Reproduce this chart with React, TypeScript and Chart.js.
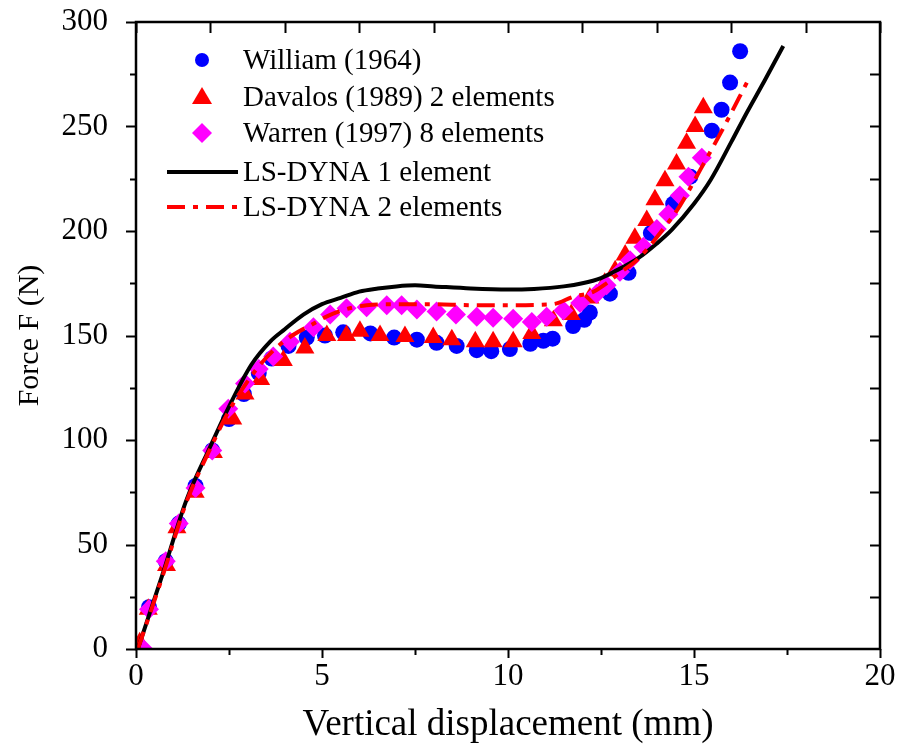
import React, { useEffect, useRef } from "react";
import { Chart, registerables } from "chart.js";
Chart.register(...registerables);

const FONT = '"Liberation Serif", "Times New Roman", serif';

// ---- Data ----
const williamX = [0.35, 0.8, 1.15, 1.6, 2.05, 2.5, 2.9, 3.3, 3.65, 4.1, 4.59, 5.08, 5.57, 6.3, 6.94, 7.55, 8.08, 8.62, 9.16, 9.55, 10.05, 10.6, 10.95, 11.2, 11.75, 12.05, 12.2, 12.74, 13.24, 13.84, 14.44, 14.9, 15.48, 15.74, 15.97, 16.24];
const williamY = [20, 42, 60, 78, 95, 110, 122, 132, 139, 145, 149, 150, 151.5, 151, 149, 148, 146.5, 145, 143, 142.5, 143.5, 146, 147.5, 148.5, 154.5, 157.5, 161, 170, 180, 199, 213, 226, 248, 258, 271, 286];

const davalosX = [0.1, 0.33, 0.82, 1.1, 1.59, 2.08, 2.6, 2.93, 3.35, 3.96, 4.54, 5.13, 5.66, 6.02, 6.56, 7.23, 7.99, 8.49, 9.12, 9.6, 10.14, 10.64, 11.22, 11.7, 12.2, 12.6, 12.88, 13.15, 13.41, 13.73, 13.95, 14.22, 14.53, 14.8, 15.03, 15.25];
const davalosY = [3, 19, 40, 58, 75, 94, 110, 122, 129, 138, 144, 150, 150, 152, 150, 149.5, 149, 148, 147, 147, 147, 151, 157, 160, 168, 175, 181, 188.5, 196.5, 205, 215, 224, 232, 242, 250, 259];

const warrenX = [0.2, 0.35, 0.8, 1.15, 1.6, 2.05, 2.48, 2.93, 3.3, 3.69, 4.14, 4.77, 5.22, 5.66, 6.2, 6.74, 7.14, 7.55, 8.08, 8.6, 9.16, 9.6, 10.14, 10.64, 11.04, 11.49, 11.94, 12.38, 12.65, 13.01, 13.28, 13.64, 14.0, 14.31, 14.62, 14.85, 15.21];
const warrenY = [0, 19, 42, 60, 77, 95, 115, 127, 134, 140, 147, 154, 160, 163, 163.5, 164.5, 164.5, 162.5, 161.5, 160, 159, 158.5, 158, 156.5, 159, 162, 165.5, 170, 174, 180.5, 186, 192.5, 201, 208, 217, 226, 235];

const dyna1X = [0.05, 0.7, 1.35, 2, 2.5, 3.1, 3.6, 4, 4.5, 5, 5.5, 6, 6.5, 7, 7.5, 8, 9, 10, 10.7, 11.5, 12, 12.5, 12.85, 13.5, 14, 14.4, 15, 15.45, 16, 16.4, 16.9, 17.4];
const dyna1Y = [0, 35, 71, 97, 116, 136, 147, 153, 160, 165, 168, 171, 172.5, 173.5, 174, 173.5, 172.5, 172, 172.3, 173.5, 175, 177.5, 180.5, 187, 194, 200.5, 213, 224.5, 242.5, 256, 272, 288.5];

const dyna2X = [0.05, 0.7, 1.35, 2, 2.5, 3.2, 3.7, 4.2, 4.7, 5.3, 6.2, 7, 8, 9, 10, 11.2, 11.75, 12.3, 12.65, 13, 13.46, 14, 14.62, 15.16, 15.78, 16.45];
const dyna2Y = [0, 34, 70, 96, 114, 133, 143, 150, 155, 160.5, 164.5, 165, 165, 164.5, 164.5, 165, 168.5, 171, 175, 180, 186, 197, 212, 229, 249, 272];

const xTickValues = [0, 5, 10, 15, 20];
const yTickValues = [0, 50, 100, 150, 200, 250, 300];

const legendLabels = [
  "William (1964)",
  "Davalos (1989) 2 elements",
  "Warren (1997) 8 elements",
  "LS-DYNA 1 element",
  "LS-DYNA 2 elements",
];

const zip = (xs: number[], ys: number[]) => xs.map((x, i) => ({ x, y: ys[i] }));

const BLUE = "#0000ff";
const RED = "#ff0000";
const MAGENTA = "#ff00ff";

const framePlugin = {
  id: "frameTicks",
  afterDatasetsDraw(chart: any) {
    const { ctx, chartArea: a, scales } = chart;
    const xs = scales.x;
    const ys = scales.y;
    ctx.save();
    ctx.strokeStyle = "#000";
    ctx.lineWidth = 2.5;
    ctx.strokeRect(a.left, a.top, a.right - a.left, a.bottom - a.top);
    ctx.lineWidth = 2;
    ctx.beginPath();
    for (let v = 0; v <= 20.001; v += 2.5) {
      const px = Math.round(xs.getPixelForValue(v)) + 0.5;
      const len = v % 5 === 0 ? 9 : 6;
      ctx.moveTo(px, a.bottom);
      ctx.lineTo(px, a.bottom + len);
    }
    for (let v = 0; v <= 20.001; v += 2) {
      const px = Math.round(xs.getPixelForValue(v)) + 0.5;
      ctx.moveTo(px, a.top);
      ctx.lineTo(px, a.top + 11);
    }
    for (let v = 0; v <= 300.001; v += 25) {
      const py = Math.round(ys.getPixelForValue(v)) + 0.5;
      const len = v % 50 === 0 ? 10 : 6;
      ctx.moveTo(a.left, py);
      ctx.lineTo(a.left - len, py);
    }
    for (let v = 25; v < 300; v += 25) {
      const py = Math.round(ys.getPixelForValue(v)) + 0.5;
      ctx.moveTo(a.right, py);
      ctx.lineTo(a.right - 10, py);
    }
    ctx.stroke();
    ctx.restore();
  },
  afterDraw(chart: any) {
    const { ctx } = chart;
    ctx.save();
    const mx = 202;
    const rows = [60, 97, 133, 172, 207];
    ctx.fillStyle = BLUE;
    ctx.beginPath();
    ctx.arc(mx, rows[0], 7, 0, Math.PI * 2);
    ctx.fill();
    ctx.fillStyle = RED;
    ctx.beginPath();
    ctx.moveTo(mx, rows[1] - 10);
    ctx.lineTo(mx + 10, rows[1] + 7);
    ctx.lineTo(mx - 10, rows[1] + 7);
    ctx.closePath();
    ctx.fill();
    ctx.fillStyle = MAGENTA;
    ctx.beginPath();
    ctx.moveTo(mx, rows[2] - 10);
    ctx.lineTo(mx + 10, rows[2]);
    ctx.lineTo(mx, rows[2] + 10);
    ctx.lineTo(mx - 10, rows[2]);
    ctx.closePath();
    ctx.fill();
    ctx.lineWidth = 4;
    ctx.strokeStyle = "#000";
    ctx.beginPath();
    ctx.moveTo(167, rows[3]);
    ctx.lineTo(238, rows[3]);
    ctx.stroke();
    ctx.strokeStyle = RED;
    ctx.setLineDash([18, 8, 5, 8]);
    ctx.beginPath();
    ctx.moveTo(167, rows[4]);
    ctx.lineTo(240, rows[4]);
    ctx.stroke();
    ctx.setLineDash([]);
    ctx.fillStyle = "#000";
    ctx.font = `29px ${FONT}`;
    ctx.textBaseline = "middle";
    ctx.textAlign = "left";
    legendLabels.forEach((t, i) => ctx.fillText(t, 243, rows[i] + 1));
    ctx.restore();
  },
};

export default function App() {
  const ref = useRef<HTMLCanvasElement | null>(null);
  useEffect(() => {
    if (!ref.current) return;
    const chart = new Chart(ref.current, {
      type: "scatter",
      data: {
        datasets: [
          {
            label: legendLabels[4],
            data: zip(dyna2X, dyna2Y),
            showLine: true,
            borderColor: RED,
            borderWidth: 4,
            borderDash: [18, 8, 5, 8],
            pointRadius: 0,
            cubicInterpolationMode: "monotone",
            order: 0,
          } as any,
          {
            label: legendLabels[3],
            data: zip(dyna1X, dyna1Y),
            showLine: true,
            borderColor: "#000",
            borderWidth: 4,
            pointRadius: 0,
            cubicInterpolationMode: "monotone",
            order: 1,
          },
          {
            label: legendLabels[2],
            data: zip(warrenX, warrenY),
            pointStyle: "rectRot",
            pointRadius: 10,
            backgroundColor: MAGENTA,
            borderColor: MAGENTA,
            borderWidth: 0,
            order: 2,
          },
          {
            label: legendLabels[1],
            data: zip(davalosX, davalosY),
            pointStyle: "triangle",
            pointRadius: 11,
            backgroundColor: RED,
            borderColor: RED,
            borderWidth: 0,
            order: 3,
          },
          {
            label: legendLabels[0],
            data: zip(williamX, williamY),
            pointStyle: "circle",
            pointRadius: 8,
            backgroundColor: BLUE,
            borderColor: BLUE,
            borderWidth: 0,
            order: 4,
          },
        ],
      },
      options: {
        responsive: false,
        animation: false,
        layout: { padding: { left: 0, right: 19, top: 22, bottom: 0 } },
        plugins: { legend: { display: false }, tooltip: { enabled: false } },
        scales: {
          x: {
            type: "linear",
            min: 0,
            max: 20,
            afterFit: (s: any) => { s.height = 105; s.paddingLeft = 0; s.paddingRight = 0; },
            afterBuildTicks: (s: any) => { s.ticks = xTickValues.map((v) => ({ value: v })); },
            grid: { display: false, drawTicks: false },
            border: { display: false },
            ticks: { color: "#000", font: { family: FONT, size: 31 }, padding: 9, autoSkip: false, maxRotation: 0 },
            title: { display: true, text: "Vertical displacement (mm)", color: "#000", font: { family: FONT, size: 37 }, padding: { top: 0, bottom: 7 } },
          },
          y: {
            type: "linear",
            min: 0,
            max: 300,
            afterFit: (s: any) => { s.width = 136; s.paddingTop = 0; s.paddingBottom = 0; },
            afterBuildTicks: (s: any) => { s.ticks = yTickValues.map((v) => ({ value: v })); },
            grid: { display: false, drawTicks: false },
            border: { display: false },
            ticks: { color: "#000", font: { family: FONT, size: 31 }, padding: 28, autoSkip: false },
            title: { display: true, text: "Force F (N)", color: "#000", font: { family: FONT, size: 30 }, padding: { top: 12, bottom: 0 } },
          },
        },
      },
      plugins: [framePlugin],
    });
    return () => chart.destroy();
  }, []);
  return (
    <div style={{ position: "fixed", left: 0, top: 0, width: 899, height: 754, background: "#fff" }}>
      <canvas ref={ref} width={899} height={754} style={{ display: "block" }} />
    </div>
  );
}
